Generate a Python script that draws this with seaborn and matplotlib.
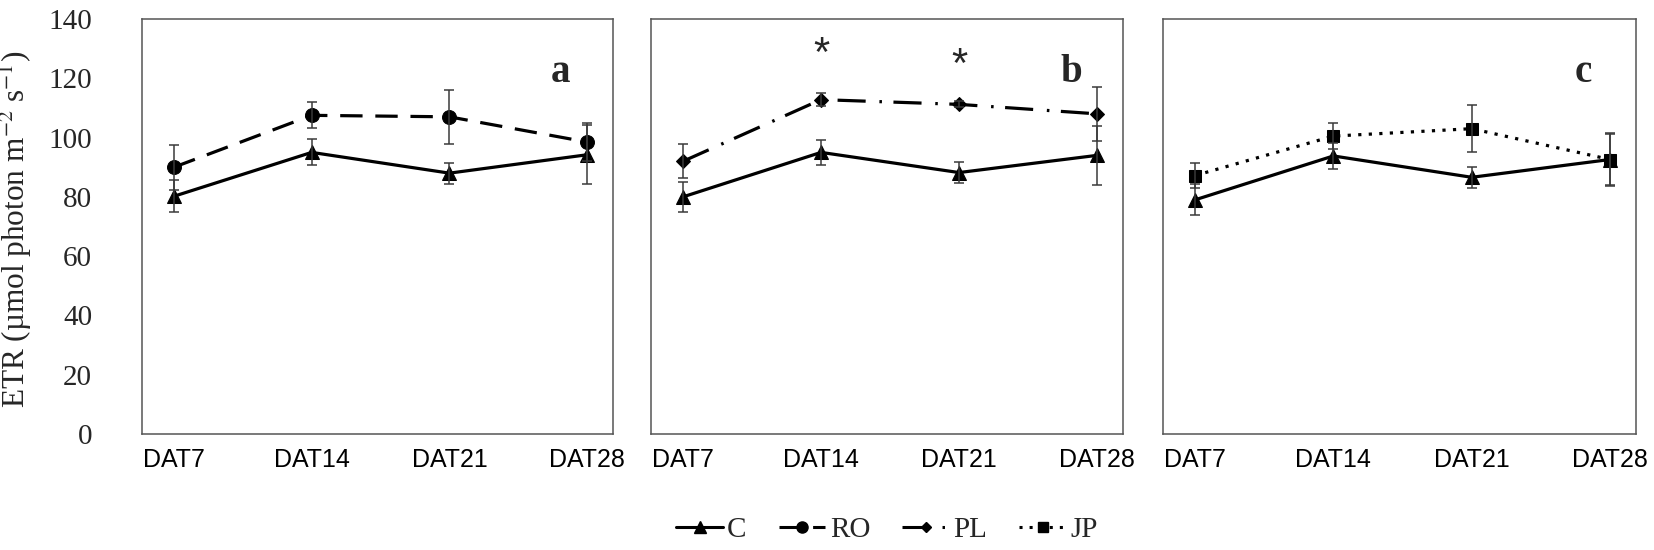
import numpy as np
import pandas as pd
import matplotlib
matplotlib.use("Agg")
import matplotlib.pyplot as plt
from matplotlib.lines import Line2D
import seaborn as sns

days = ["DAT7", "DAT14", "DAT21", "DAT28"]

# panel a: control vs RO
c_a = [80.2, 95.0, 88.0, 94.2]
c_a_sd = [5.4, 4.4, 3.5, 10.0]
ro = [90.0, 107.5, 107.0, 98.5]
ro_sd = [7.6, 4.4, 9.0, 6.5]

# panel b: control vs PL
c_b = [80.0, 95.0, 88.2, 94.0]
c_b_sd = [5.0, 4.2, 3.4, 10.0]
pl = [92.0, 112.8, 111.2, 108.0]
pl_sd = [5.7, 2.3, 1.0, 9.0]

# panel c: control vs JP
c_c = [79.0, 93.8, 86.6, 92.6]
c_c_sd = [5.2, 4.3, 3.6, 8.6]
jp = [87.2, 100.5, 103.0, 92.6]
jp_sd = [4.2, 4.4, 8.0, 9.0]

panel_letters = ["a", "b", "c"]
star_days = ["DAT14", "DAT21"]
star_y = [128, 124]

SERIF = "Liberation Serif"
SANS = "Liberation Sans"

styles = {
    "C": dict(ls="-", marker="^", ms=10),
    "RO": dict(ls=(0, (7, 4)), marker="o", ms=10),
    "PL": dict(ls=(0, (8.8, 4.3, 0.8, 3.6)), marker="D", ms=7),
    "JP": dict(ls=(0, (1, 2.3)), marker="s", ms=9),
}


def draw(ax, y, sd, name):
    st = styles[name]
    df = pd.DataFrame({"x": np.arange(len(days)), "y": y})
    sns.lineplot(data=df, x="x", y="y", ax=ax, color="black", linestyle=st["ls"],
                 lw=2.3, marker=st["marker"], markersize=st["ms"],
                 markeredgecolor="black", errorbar=None, zorder=3)
    ax.errorbar(df["x"], df["y"], yerr=sd, fmt="none", ecolor="#3a3a3a",
                elinewidth=1.1, capsize=3.5, capthick=1.1, zorder=4)


sns.set_theme(style="white")
plt.rcParams["mathtext.fontset"] = "stix"

fig = plt.figure(figsize=(16.54, 5.5), dpi=100)
lefts = [142, 651, 1163]
widths = [471, 472, 473]
axes = [fig.add_axes([l / 1654, 1 - 434 / 550, w / 1654, 415 / 550])
        for l, w in zip(lefts, widths)]

draw(axes[0], c_a, c_a_sd, "C")
draw(axes[0], ro, ro_sd, "RO")
draw(axes[1], c_b, c_b_sd, "C")
draw(axes[1], pl, pl_sd, "PL")
draw(axes[2], c_c, c_c_sd, "C")
draw(axes[2], jp, jp_sd, "JP")

for i, ax in enumerate(axes):
    ax.set_xlim(-0.232, 3.188)
    ax.set_ylim(0, 140)
    ax.set_xticks(range(len(days)))
    ax.set_xticklabels(days, fontsize=18, family=SANS, color="black")
    ax.tick_params(axis="both", length=0)
    ax.tick_params(axis="x", pad=10)
    ax.set_xlabel("")
    ax.set_ylabel("")
    for sp in ax.spines.values():
        sp.set_color("#555555")
        sp.set_linewidth(1.1)
    ax.text(2.81, 122, panel_letters[i], fontsize=28, fontweight="bold",
            family=SERIF, ha="center", va="center")
    if i == 0:
        ax.set_yticks(range(0, 141, 20))
        ax.set_yticklabels([str(v) for v in range(0, 141, 20)], fontsize=21, family=SERIF)
        ax.tick_params(axis="y", pad=36)
        ax.set_ylabel("ETR (µmol photon m$^{-2}$ s$^{-1}$)", fontsize=22.5, family=SERIF)
        ax.yaxis.set_label_coords(-0.228, 0.494)
    else:
        ax.set_yticks(range(0, 141, 20))
        ax.set_yticklabels([])

for d, yv in zip(star_days, star_y):
    axes[1].text(days.index(d), yv, "*", fontsize=30, family=SANS,
                 ha="center", va="center")

handles = [Line2D([], [], color="black", lw=2.2, linestyle=styles[n]["ls"],
                  marker=styles[n]["marker"], markersize=styles[n]["ms"] * 0.8)
           for n in ["C", "RO", "PL", "JP"]]
fig.legend(handles, ["C", "RO", "PL", "JP"], loc="center", ncol=4,
           bbox_to_anchor=(887 / 1654, 1 - 530 / 550), frameon=False,
           prop={"family": SERIF, "size": 21}, handlelength=1.6,
           handletextpad=0.15, columnspacing=1.1)

fig.savefig("out.png", dpi=100)
